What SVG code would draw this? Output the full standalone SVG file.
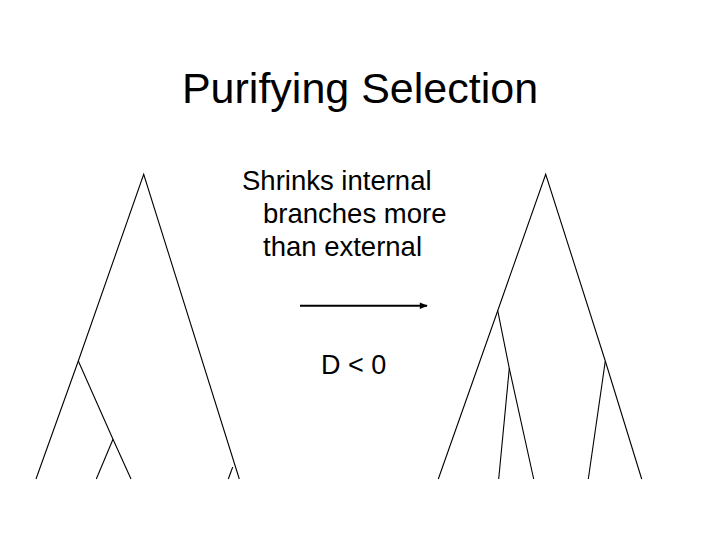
<svg xmlns="http://www.w3.org/2000/svg" width="720" height="540" viewBox="0 0 720 540">
<style>
text{font-family:"Liberation Sans",Arial,sans-serif;fill:#000}
.br{stroke:#000;stroke-width:1.1;fill:none}
</style>
<defs>
<marker id="ah" viewBox="0 0 10 10" refX="9" refY="5" markerWidth="4.5" markerHeight="4" orient="auto" markerUnits="strokeWidth">
<path d="M0,1 L10,5 L0,9 z" fill="#000"/>
</marker>
</defs>
<rect width="720" height="540" fill="#fff"/>
<g id="title"><text x="360" y="103" font-size="43" text-anchor="middle">Purifying Selection</text></g>
<g id="caption">
<text x="242" y="190" font-size="27.5">Shrinks internal</text>
<text x="263" y="223" font-size="27.5">branches more</text>
<text x="263" y="256" font-size="27.5">than external</text>
</g>
<g id="dlabel"><text x="321" y="374" font-size="27">D &lt; 0</text></g>
<g id="tree-left" class="br">
<path class="br" d="M36,479 L78.3,361 L143.7,174.3 L239.3,479"/>
<path class="br" d="M78.3,361 L113,439.3 L131,479"/>
<path class="br" d="M113,439.3 L96.3,479"/>
<path class="br" d="M232.7,467 L228.3,479"/>
</g>
<g id="tree-right" class="br">
<path class="br" d="M438.3,479 L497.7,310.7 L545.7,174.3 L605.3,361 L641.7,479"/>
<path class="br" d="M497.7,310.7 L509.3,368.3 L533.7,479"/>
<path class="br" d="M509.3,368.3 L498.7,479"/>
<path class="br" d="M605.3,361 L588.3,479"/>
</g>
<g id="connectors">
<line x1="300" y1="305.7" x2="427" y2="305.7" stroke="#000" stroke-width="2" marker-end="url(#ah)"/>
</g>
</svg>
